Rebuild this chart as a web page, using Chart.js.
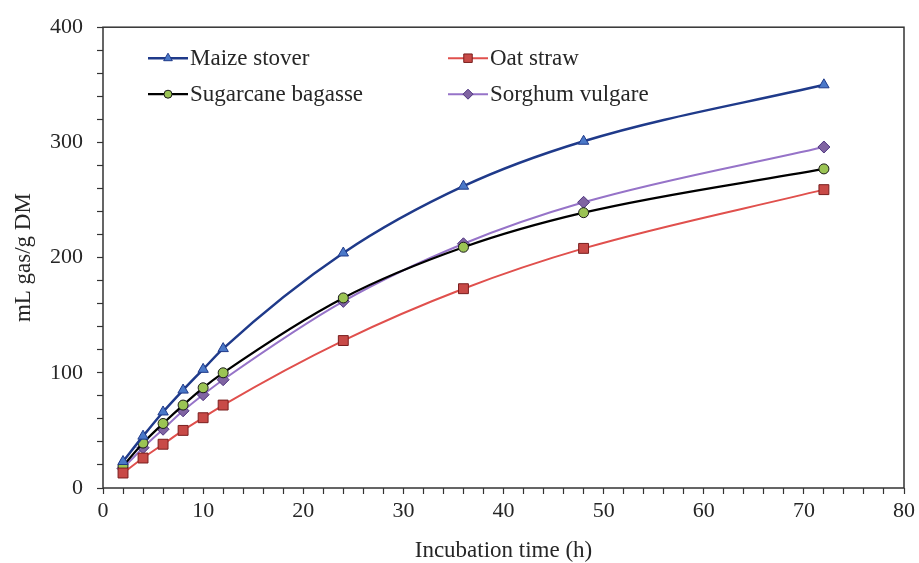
<!DOCTYPE html>
<html>
<head>
<meta charset="utf-8">
<script src="https://cdn.jsdelivr.net/npm/chart.js@4.4.1/dist/chart.umd.min.js"></script>
<style>
  html, body { margin: 0; padding: 0; background: #fff; }
  #wrap { width: 919px; height: 563px; }
</style>
</head>
<body>
<div id="wrap"><canvas id="gasChart" width="919" height="563"></canvas></div>
<script>
// incubation times (h)
const hours = [2, 4, 6, 8, 10, 12, 24, 36, 48, 72];

// cumulative gas production, mL gas/g DM
const maizeStover = [23, 45, 66, 85, 103, 121, 204, 262, 301, 350];
const oatStraw = [13, 26, 38, 50, 61, 72, 128, 173, 208, 259];
const sugarcaneBagasse = [19, 39, 56, 72, 87, 100, 165, 209, 239, 277];
const sorghumVulgare = [17, 35, 51, 67, 81, 94, 162, 212, 248, 296];

const seriesNames = ["Maize stover", "Oat straw", "Sugarcane bagasse", "Sorghum vulgare"];

const FONT = "'Liberation Serif', 'Times New Roman', serif";
const INK = "#262626";

function pts(vals) {
  return hours.map((h, i) => ({ x: h, y: vals[i] }));
}

const styles = [
  { line: "#1f3a8a", fill: "#4a78c8", edge: "#1f3a8a", shape: "triangle", r: 6, w: 2.5 },
  { line: "#e0504d", fill: "#c84a47", edge: "#7a1f1f", shape: "rect", r: 7, w: 2 },
  { line: "#000000", fill: "#9bc454", edge: "#1a1a1a", shape: "circle", r: 5, w: 2.2 },
  { line: "#9673c8", fill: "#8064a2", edge: "#4e3580", shape: "rectRot", r: 6, w: 2 }
];

const allValues = [maizeStover, oatStraw, sugarcaneBagasse, sorghumVulgare];

const datasets = allValues.map((vals, i) => ({
  label: seriesNames[i],
  data: pts(vals),
  showLine: true,
  borderColor: styles[i].line,
  borderWidth: styles[i].w,
  cubicInterpolationMode: "monotone",
  pointStyle: styles[i].shape,
  pointRadius: styles[i].r,
  pointBackgroundColor: styles[i].fill,
  pointBorderColor: styles[i].edge,
  pointBorderWidth: 1,
  order: i === 0 ? 0 : 1
}));

// frame round the plot area + legend inside it
const framePlugin = {
  id: "frame",
  afterDraw(chart) {
    const { ctx, chartArea: a } = chart;
    ctx.save();
    ctx.strokeStyle = "#333";
    ctx.lineWidth = 1.5;
    ctx.strokeRect(a.left, a.top, a.right - a.left, a.bottom - a.top);

    const spots = [
      { x: a.left + 45, y: a.top + 31 },
      { x: a.left + 345, y: a.top + 31 },
      { x: a.left + 45, y: a.top + 67 },
      { x: a.left + 345, y: a.top + 67 }
    ];
    ctx.font = "23px " + FONT;
    ctx.textBaseline = "middle";
    ctx.fillStyle = INK;
    datasets.forEach((ds, i) => {
      const p = spots[i];
      ctx.strokeStyle = ds.borderColor;
      ctx.lineWidth = ds.borderWidth;
      ctx.beginPath();
      ctx.moveTo(p.x, p.y);
      ctx.lineTo(p.x + 40, p.y);
      ctx.stroke();
      ctx.fillStyle = ds.pointBackgroundColor;
      ctx.strokeStyle = ds.pointBorderColor;
      ctx.lineWidth = 1;
      Chart.helpers.drawPoint(ctx, { pointStyle: ds.pointStyle, radius: ds.pointRadius - 1, borderWidth: 1 }, p.x + 20, p.y);
      ctx.fillStyle = INK;
      ctx.fillText(ds.label, p.x + 42, p.y + 1);
    });
    ctx.restore();
  }
};

new Chart(document.getElementById("gasChart"), {
  type: "scatter",
  data: { datasets },
  options: {
    responsive: false,
    animation: false,
    layout: { padding: { top: 25, right: 11, left: 0, bottom: 0 } },
    plugins: {
      legend: { display: false },
      tooltip: { enabled: false }
    },
    scales: {
      x: {
        type: "linear",
        min: 0,
        max: 80,
        afterFit(s) { s.height = 75; },
        ticks: {
          stepSize: 2,
          autoSkip: false,
          maxRotation: 0,
          padding: 4,
          color: INK,
          font: { family: FONT, size: 22 },
          callback: (v) => (v % 10 === 0 ? v : "")
        },
        grid: { drawOnChartArea: false, tickLength: 6, color: "#333", tickWidth: 1.2 },
        border: { display: false },
        title: {
          display: true,
          text: "Incubation time (h)",
          color: INK,
          font: { family: FONT, size: 23 },
          padding: { top: 0, bottom: -2 }
        }
      },
      y: {
        min: 0,
        max: 400,
        afterFit(s) { s.width = 103; },
        ticks: {
          stepSize: 20,
          autoSkip: false,
          padding: 14,
          color: INK,
          font: { family: FONT, size: 22 },
          callback: (v) => (v % 100 === 0 ? v : "")
        },
        grid: { drawOnChartArea: false, tickLength: 6, color: "#333", tickWidth: 1.2 },
        border: { display: false },
        title: {
          display: true,
          text: "mL gas/g DM",
          color: INK,
          font: { family: FONT, size: 23 },
          padding: { top: 10, bottom: 0 }
        }
      }
    }
  },
  plugins: [framePlugin]
});
</script>
</body>
</html>
